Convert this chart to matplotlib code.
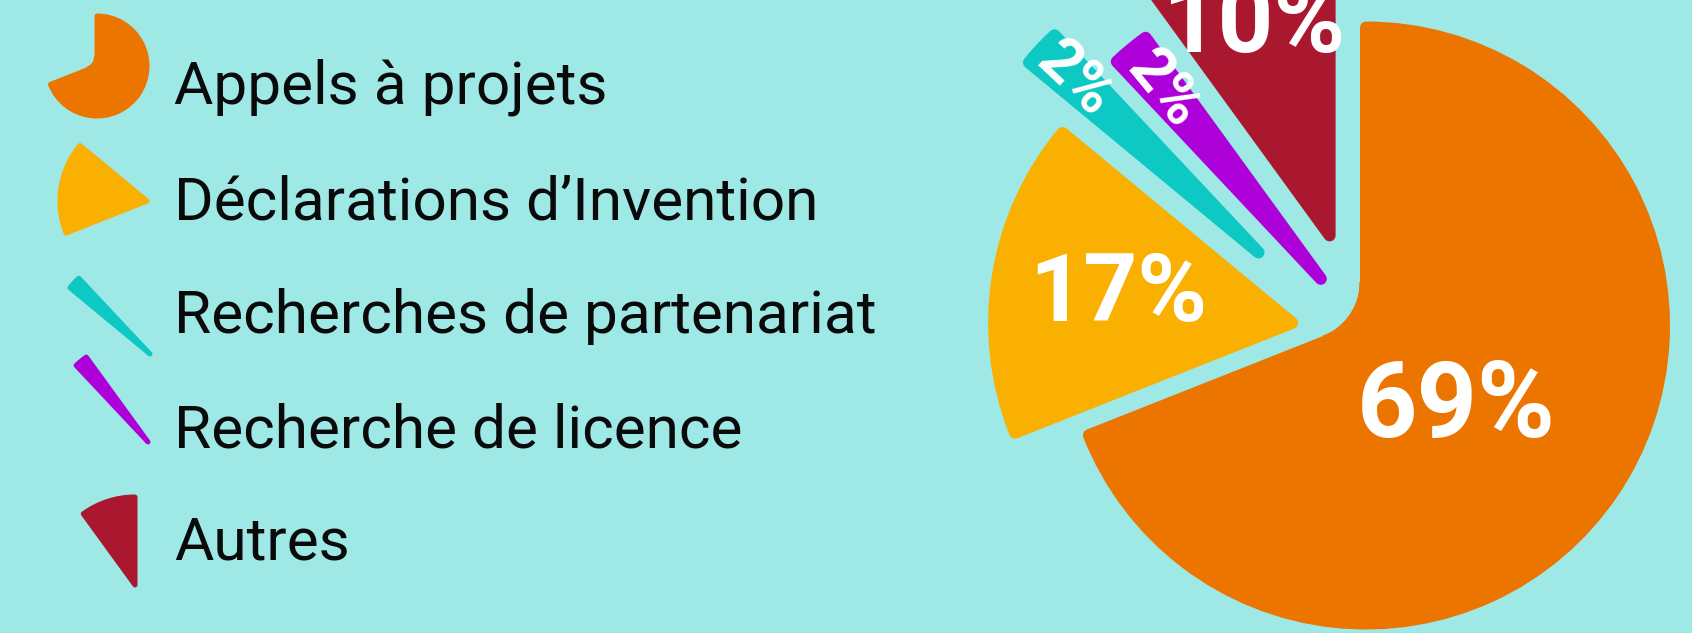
import numpy as np
import matplotlib
matplotlib.use("Agg")
import matplotlib.pyplot as plt
from matplotlib.patches import Wedge, Polygon

# data
labels = ["Appels à projets", "Déclarations d’Invention",
          "Recherches de partenariat", "Recherche de licence", "Autres"]
shares = [69, 17, 2, 2, 10]
pct_labels = ["69%", "17%", "2%", "2%", "10%"]
colors = ["#ec7500", "#f9b000", "#0dc8c3", "#ae00d8", "#aa1830"]
explode = [0.0, 0.248, 0.436, 0.218, 0.326]     # offset, fraction of radius
explode_turn = [0, 7, 9, 4.5, 4]                # offset direction vs. mid-angle (deg)

BG = "#9ee8e6"
W, H = 1692, 633
CX, CY, RW = 1366, 325.5, 298     # pie centre (px, from top-left) and wedge radius (px)
PT = 72 / 100                     # px -> points at dpi 100

fig = plt.figure(figsize=(W / 100, H / 100), dpi=100, facecolor=BG)
ax = fig.add_axes([0, 0, 1, 1])

# Rounded slices: same-colour round-joined stroke around each wedge.
wedges, _ = ax.pie(shares, colors=colors, startangle=90, counterclock=False,
                   radius=1, wedgeprops=dict(linewidth=12 * PT, joinstyle="round"))
for w, e, dt in zip(wedges, explode, explode_turn):
    w.set_edgecolor(w.get_facecolor())
    a = np.radians((w.theta1 + w.theta2) / 2 + dt)
    w.set_center((e * np.cos(a), e * np.sin(a)))

ax.set_xlim(-CX / RW, (W - CX) / RW)
ax.set_ylim(-(H - CY) / RW, CY / RW)
ax.set_aspect("auto")
ax.axis("off")


def fillet(center, a, b, s, rf):
    """Polygon that rounds the gap corner a->b (deg, CCW) of a reflex wedge."""
    half = np.radians((b - a) / 2)
    ub = np.array([np.cos(np.radians((a + b) / 2)), np.sin(np.radians((a + b) / 2))])
    p = np.asarray(center) + s / np.sin(half) * ub
    q = p + rf / np.sin(half) * ub
    t = np.radians(np.linspace(a - 90, b + 90 - 360, 40))
    arc = np.column_stack([q[0] + rf * np.cos(t), q[1] + rf * np.sin(t)])
    return np.vstack([p, arc])


big = wedges[0]
ax.add_patch(Polygon(fillet(big.center, big.theta2, big.theta1 + 360, 6 / RW, 58 / RW),
                     closed=True, facecolor=big.get_facecolor(),
                     edgecolor=big.get_facecolor(), lw=0.5))

# percentage labels
label_dist = [0.41, 0.59, 0.845, 0.825, 0.748]
label_turn = [-8.3, 0, 0, 0, 2]
label_size = [76, 68, 44, 44, 70]
for w, txt, d, dt, fs in zip(wedges, pct_labels, label_dist, label_turn, label_size):
    mid = (w.theta1 + w.theta2) / 2
    a = np.radians(mid + dt)
    x = w.center[0] + d * np.cos(a)
    y = w.center[1] + d * np.sin(a)
    rot = 0 if fs > 50 else mid - 180
    ax.text(x, y, txt, fontsize=fs, fontweight="bold", color="white",
            family="Roboto", ha="center", va="center", rotation=rot,
            rotation_mode="anchor")

# legend: small copies of each wedge + label
leg_apex = [(97, 66), (147, 201), (150, 354), (148, 442), (135, 585)]
leg_r = [50, 87, 104, 105, 88]
leg_base = [104, 219, 333, 447, 560]
for w, (px, py), r, yb, lab in zip(wedges, leg_apex, leg_r, leg_base, labels):
    c = ((px - CX) / RW, (CY - py) / RW)
    col = w.get_facecolor()
    ax.add_patch(Wedge(c, r / RW, w.theta1, w.theta2, facecolor=col,
                       edgecolor=col, lw=5 * PT, joinstyle="round", clip_on=False))
    fig.text(174 / W, 1 - yb / H, lab, fontsize=43.5, family="Roboto",
             color="#0a0a0a", ha="left", va="baseline")
ax.add_patch(Polygon(fillet(((leg_apex[0][0] - CX) / RW, (CY - leg_apex[0][1]) / RW),
                            big.theta2, big.theta1 + 360, 2.5 / RW, 12 / RW),
                     closed=True, facecolor=big.get_facecolor(),
                     edgecolor=big.get_facecolor(), lw=0.5))

fig.savefig("out.png", dpi=100, facecolor=BG)
